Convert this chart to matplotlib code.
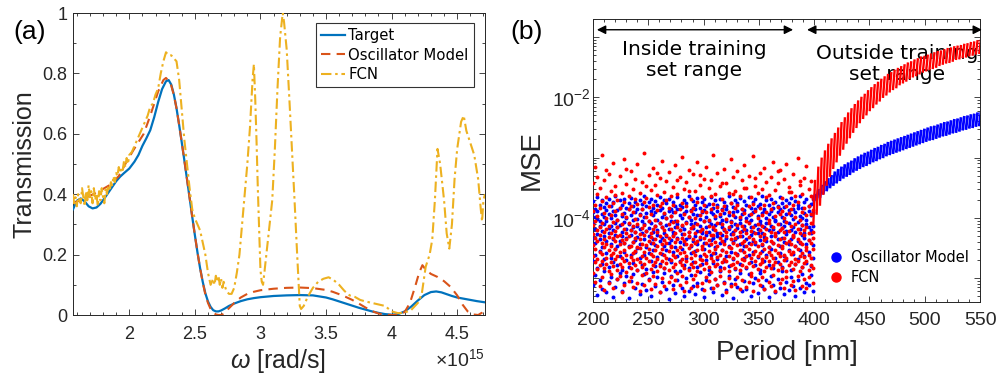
import numpy as np
import matplotlib
matplotlib.use('Agg')
import matplotlib.pyplot as plt
from matplotlib.lines import Line2D
from matplotlib.collections import LineCollection
from matplotlib.ticker import FixedLocator, MultipleLocator, FuncFormatter, NullFormatter, LogLocator

plt.rcParams['font.family'] = ['Liberation Sans', 'DejaVu Sans']
plt.rcParams['mathtext.fontset'] = 'custom'
plt.rcParams['mathtext.rm'] = 'Liberation Sans'
plt.rcParams['mathtext.it'] = 'Liberation Sans:italic'

# ---------------- Panel (a) data: omega in units of 1e15 rad/s ----------------
target_w = [1.571, 1.60, 1.63, 1.66, 1.69, 1.72, 1.75, 1.78, 1.81, 1.84, 1.87, 1.90, 1.93, 1.96, 2.00,
            2.04, 2.07, 2.10, 2.13, 2.16, 2.19, 2.22, 2.25, 2.28, 2.30, 2.32, 2.34, 2.36, 2.38, 2.40,
            2.42, 2.44, 2.46, 2.48, 2.50, 2.52, 2.54, 2.56, 2.58, 2.60, 2.62, 2.64, 2.66, 2.68, 2.70,
            2.73, 2.76, 2.80, 2.85, 2.90, 2.95, 3.00, 3.10, 3.20, 3.30, 3.40, 3.50, 3.55, 3.60, 3.65,
            3.70, 3.75, 3.80, 3.85, 3.90, 3.95, 4.00, 4.05, 4.10, 4.15, 4.20, 4.25, 4.30, 4.34, 4.38,
            4.42, 4.46, 4.50, 4.55, 4.60, 4.65, 4.712]
target_t = [0.350, 0.378, 0.386, 0.376, 0.360, 0.353, 0.356, 0.368, 0.386, 0.405, 0.424, 0.443, 0.458, 0.470, 0.485,
            0.508, 0.530, 0.560, 0.585, 0.612, 0.655, 0.705, 0.748, 0.774, 0.778, 0.763, 0.730, 0.685, 0.630, 0.572,
            0.512, 0.450, 0.388, 0.325, 0.265, 0.207, 0.155, 0.110, 0.072, 0.045, 0.027, 0.016, 0.012, 0.012, 0.015,
            0.022, 0.030, 0.038, 0.046, 0.052, 0.056, 0.059, 0.063, 0.065, 0.066, 0.065, 0.058, 0.052, 0.045, 0.038,
            0.031, 0.024, 0.018, 0.012, 0.007, 0.003, 0.001, 0.003, 0.012, 0.028, 0.048, 0.066, 0.076, 0.078, 0.075,
            0.069, 0.063, 0.058, 0.054, 0.050, 0.046, 0.042]

osc_w = [1.571, 1.65, 1.75, 1.85, 1.92, 1.97, 2.03, 2.11, 2.16, 2.22, 2.26, 2.28, 2.30, 2.32, 2.34,
         2.36, 2.38, 2.40, 2.42, 2.44, 2.46, 2.48, 2.50, 2.52, 2.54, 2.56, 2.58, 2.60, 2.62, 2.64,
         2.66, 2.68, 2.70, 2.72, 2.75, 2.80, 2.85, 2.90, 2.95, 3.00, 3.10, 3.20, 3.30, 3.40, 3.50,
         3.55, 3.60, 3.65, 3.70, 3.75, 3.80, 3.85, 3.90, 3.95, 4.00, 4.05, 4.10, 4.14, 4.18, 4.21,
         4.235, 4.26, 4.30, 4.35, 4.40, 4.45, 4.50, 4.54, 4.58, 4.62, 4.66, 4.69, 4.712]
osc_t = [0.370, 0.385, 0.405, 0.430, 0.460, 0.500, 0.545, 0.600, 0.660, 0.740, 0.778, 0.785, 0.775, 0.760, 0.728,
         0.685, 0.630, 0.572, 0.512, 0.450, 0.388, 0.325, 0.265, 0.207, 0.155, 0.108, 0.068, 0.040, 0.020, 0.008,
         0.002, 0.000, 0.000, 0.004, 0.018, 0.040, 0.058, 0.070, 0.077, 0.082, 0.087, 0.090, 0.091, 0.089, 0.083,
         0.077, 0.069, 0.060, 0.050, 0.038, 0.025, 0.013, 0.005, 0.001, 0.000, 0.000, 0.010, 0.040, 0.095, 0.140,
         0.165, 0.150, 0.136, 0.126, 0.112, 0.093, 0.065, 0.035, 0.012, 0.002, 0.000, 0.008, 0.020]

fcn_w = [1.571, 1.58, 1.59, 1.60, 1.61, 1.62, 1.63, 1.64, 1.65, 1.66, 1.67, 1.68, 1.69, 1.70, 1.71,
         1.72, 1.73, 1.74, 1.75, 1.76, 1.77, 1.78, 1.79, 1.80, 1.81, 1.82, 1.83, 1.84, 1.85, 1.86,
         1.87, 1.88, 1.89, 1.90, 1.91, 1.92, 1.93, 1.94, 1.95, 1.96, 1.97, 1.98, 1.99, 2.00, 2.02,
         2.04, 2.06, 2.08, 2.10, 2.12, 2.14, 2.16, 2.18, 2.20, 2.22, 2.24, 2.26, 2.28, 2.30, 2.32,
         2.34, 2.36, 2.38, 2.40, 2.42, 2.44, 2.46, 2.48, 2.50, 2.52, 2.54, 2.56, 2.58, 2.60, 2.62,
         2.64, 2.65, 2.66, 2.67, 2.68, 2.69, 2.70, 2.71, 2.72, 2.74, 2.76, 2.78, 2.80, 2.82, 2.84,
         2.86, 2.88, 2.90, 2.92, 2.94, 2.95, 2.96, 2.97, 2.98, 2.99, 3.00, 3.01, 3.02, 3.03, 3.05,
         3.07, 3.09, 3.11, 3.13, 3.15, 3.17, 3.18, 3.20, 3.22, 3.24, 3.26, 3.28, 3.30, 3.31, 3.33,
         3.36, 3.40, 3.44, 3.48, 3.52, 3.56, 3.60, 3.64, 3.68, 3.72, 3.76, 3.80, 3.85, 3.90, 3.95,
         4.00, 4.05, 4.10, 4.15, 4.20, 4.23, 4.26, 4.29, 4.31, 4.33, 4.35, 4.37, 4.40, 4.42, 4.44,
         4.46, 4.48, 4.50, 4.53, 4.55, 4.57, 4.60, 4.63, 4.66, 4.68, 4.69, 4.70, 4.712]
fcn_t = [0.400, 0.370, 0.390, 0.360, 0.400, 0.380, 0.370, 0.420, 0.390, 0.360, 0.410, 0.380, 0.430, 0.390, 0.410,
         0.370, 0.420, 0.380, 0.400, 0.360, 0.410, 0.380, 0.420, 0.390, 0.370, 0.420, 0.400, 0.430, 0.410, 0.440,
         0.430, 0.460, 0.440, 0.470, 0.460, 0.490, 0.470, 0.490, 0.480, 0.510, 0.490, 0.520, 0.500, 0.530, 0.540,
         0.560, 0.580, 0.600, 0.620, 0.640, 0.660, 0.690, 0.700, 0.730, 0.750, 0.800, 0.840, 0.870, 0.860, 0.860,
         0.850, 0.840, 0.780, 0.680, 0.580, 0.500, 0.420, 0.350, 0.320, 0.300, 0.280, 0.240, 0.200, 0.140, 0.100,
         0.120, 0.100, 0.130, 0.110, 0.130, 0.100, 0.120, 0.090, 0.110, 0.080, 0.070, 0.070, 0.090, 0.140, 0.200,
         0.300, 0.400, 0.500, 0.620, 0.780, 0.830, 0.720, 0.580, 0.420, 0.280, 0.150, 0.110, 0.100, 0.140, 0.220,
         0.300, 0.380, 0.550, 0.750, 0.920, 1.000, 0.970, 0.880, 0.720, 0.550, 0.380, 0.200, 0.030, 0.020, 0.030,
         0.060, 0.090, 0.110, 0.120, 0.125, 0.115, 0.100, 0.080, 0.065, 0.060, 0.050, 0.045, 0.040, 0.035, 0.030,
         0.012, 0.006, 0.008, 0.017, 0.040, 0.070, 0.160, 0.200, 0.250, 0.380, 0.550, 0.500, 0.380, 0.270, 0.220,
         0.300, 0.450, 0.550, 0.640, 0.660, 0.610, 0.570, 0.530, 0.450, 0.350, 0.310, 0.380, 0.400]

# ---------------- Panel (b) data: -log10(MSE) per period sample ----------------
osc_inside = [
    [3.72,3.91,4.08,4.33,4.71,5.12],[3.85,3.98,4.19,4.41,4.62,4.95],[3.66,3.88,4.02,4.27,4.84,5.28],
    [3.79,4.05,4.14,4.36,4.55,5.03],[3.70,3.94,4.22,4.48,4.77,5.19],[3.82,3.99,4.11,4.30,4.68,4.89],
    [3.76,3.87,4.06,4.39,4.59,5.24],[3.68,3.93,4.17,4.25,4.81,5.07],[3.81,4.01,4.13,4.44,4.66,4.98],
    [3.74,3.89,4.21,4.35,4.73,5.31],[3.63,3.96,4.09,4.28,4.52,5.15],[3.87,4.03,4.16,4.46,4.79,5.01],
    [3.71,3.84,4.12,4.38,4.64,4.91],[3.78,3.97,4.24,4.31,4.87,5.22],[3.69,3.92,4.07,4.42,4.57,5.09],
    [3.83,4.00,4.18,4.34,4.70,4.96],[3.75,3.86,4.10,4.47,4.82,5.33],[3.67,3.95,4.20,4.29,4.61,5.05],
    [3.80,4.04,4.15,4.40,4.75,4.93],[3.73,3.90,4.23,4.37,4.56,5.17],[3.86,4.02,4.14,4.32,4.50,4.86],
    [3.70,3.93,4.19,4.43,4.67,5.26],[3.77,3.85,4.05,4.26,4.78,5.10],[3.64,3.99,4.11,4.36,4.62,4.94],
    [3.81,3.92,4.22,4.49,4.85,5.20],[3.74,4.06,4.17,4.30,4.58,5.02],[3.69,3.88,4.09,4.41,4.72,5.29],
    [3.84,3.96,4.24,4.35,4.54,4.90],[3.72,3.91,4.13,4.45,4.80,5.14],[3.79,4.03,4.20,4.28,4.65,4.99],
    [3.65,3.87,4.08,4.39,4.76,5.23],[3.83,3.98,4.16,4.33,4.60,5.06],[3.71,3.94,4.25,4.46,4.83,4.92],
    [3.76,4.01,4.12,4.31,4.53,5.18],[3.68,3.89,4.18,4.42,4.69,5.34],[3.85,3.97,4.06,4.37,4.74,4.97],
    [3.73,3.90,4.23,4.29,4.57,5.11],[3.80,4.05,4.15,4.48,4.88,5.25],[3.66,3.86,4.10,4.34,4.63,5.04],
    [3.78,3.95,4.21,4.40,4.71,4.88],[3.82,4.00,4.14,4.27,4.51,5.16],[3.70,3.92,4.19,4.44,4.79,5.30],
    [3.75,3.88,4.07,4.36,4.66,5.00],[3.63,3.99,4.24,4.32,4.84,5.21],[3.87,4.04,4.11,4.47,4.59,4.95],
    [3.72,3.93,4.17,4.38,4.73,5.13],[3.79,3.85,4.09,4.30,4.55,5.27],[3.67,3.96,4.22,4.43,4.81,5.08],
    [3.84,4.02,4.13,4.35,4.64,4.90],[3.74,3.91,4.20,4.26,4.77,5.19],[3.69,3.87,4.05,4.41,4.52,5.32],
    [3.81,3.98,4.16,4.29,4.70,5.03],[3.77,4.06,4.23,4.45,4.86,4.93],[3.65,3.90,4.10,4.37,4.61,5.17],
    [3.83,3.94,4.18,4.33,4.75,5.24],[3.71,4.01,4.12,4.49,4.58,5.01],[3.78,3.89,4.25,4.31,4.68,5.12],
    [3.68,3.97,4.08,4.42,4.82,4.89],[3.86,4.03,4.15,4.28,4.54,5.28],[3.73,3.92,4.21,4.39,4.72,5.06],
    [3.80,3.86,4.06,4.34,4.63,5.20],[3.64,3.95,4.19,4.46,4.80,4.97],[3.76,4.05,4.14,4.27,4.56,5.10],
    [3.82,3.91,4.24,4.40,4.69,5.33],[3.70,3.99,4.11,4.36,4.85,5.02],[3.75,3.88,4.17,4.32,4.60,5.15],
    [3.67,4.02,4.09,4.44,4.76,4.92],[3.85,3.93,4.22,4.30,4.53,5.22],[3.72,3.87,4.13,4.47,4.67,5.05],
    [3.79,4.00,4.20,4.35,4.83,5.18],[3.66,3.96,4.07,4.41,4.62,4.94],[3.83,4.04,4.16,4.29,4.74,5.29],
    [3.74,3.90,4.23,4.38,4.57,5.09],[3.69,3.85,4.12,4.43,4.79,5.00],[3.81,3.97,4.18,4.26,4.65,5.25],
    [3.77,4.06,4.10,4.37,4.87,4.91],[3.63,3.92,4.25,4.45,4.55,5.13],[3.86,3.89,4.15,4.32,4.71,5.19],
    [3.71,4.01,4.08,4.39,4.61,5.04],[3.78,3.94,4.21,4.48,4.78,5.31],[3.68,3.88,4.14,4.31,4.52,4.96],
    [3.84,3.98,4.19,4.42,4.84,5.11],[3.73,4.03,4.06,4.28,4.66,5.23],[3.80,3.91,4.24,4.36,4.73,5.02],
    [3.65,3.86,4.11,4.46,4.59,5.16],[3.76,3.99,4.17,4.33,4.81,4.88],[3.82,4.05,4.13,4.40,4.64,5.27],
    [3.70,3.93,4.22,4.27,4.70,5.07],[3.75,3.87,4.09,4.44,4.54,5.20],[3.67,3.95,4.20,4.35,4.86,4.99],
    [3.85,4.02,4.15,4.30,4.60,5.14],[3.72,3.90,4.23,4.47,4.77,5.30],[3.79,3.84,4.07,4.38,4.68,5.03],
    [3.64,3.97,4.18,4.41,4.53,5.17],[3.83,4.00,4.12,4.29,4.82,4.93],[3.74,3.92,4.25,4.34,4.63,5.24],
    [3.69,4.04,4.10,4.43,4.75,5.08],[3.81,3.89,4.16,4.37,4.57,5.12],[3.77,3.96,4.21,4.26,4.80,4.95],
    [3.66,3.91,4.14,4.45,4.67,5.21]]

fcn_inside = [
    [3.42,3.88,4.27,4.45,4.63,4.91,4.12],[3.15,3.79,4.05,4.33,4.52,4.74,5.06],[3.61,3.97,4.21,4.38,4.69,4.85,3.33],
    [3.50,3.84,4.16,4.29,4.57,4.78,5.13],[2.96,3.72,4.09,4.41,4.60,4.71,4.98],[3.38,3.92,4.24,4.36,4.49,4.83,5.20],
    [3.66,4.01,4.19,4.43,4.66,4.76,3.21],[3.27,3.81,4.13,4.32,4.54,4.88,5.09],[3.55,3.95,4.26,4.47,4.62,4.73,4.94],
    [3.09,3.76,4.07,4.34,4.58,4.80,5.17],[3.47,3.89,4.22,4.39,4.51,4.69,3.62],[3.70,4.04,4.15,4.30,4.64,4.86,5.02],
    [3.31,3.83,4.28,4.44,4.56,4.77,4.97],[3.58,3.93,4.11,4.37,4.67,4.82,5.24],[3.02,3.74,4.18,4.42,4.53,4.72,5.11],
    [3.44,3.98,4.25,4.35,4.61,4.90,3.19],[3.63,3.86,4.08,4.31,4.48,4.75,5.05],[3.22,3.80,4.20,4.46,4.65,4.84,4.99],
    [3.52,3.91,4.14,4.40,4.59,4.70,5.15],[3.36,4.02,4.23,4.33,4.55,4.79,3.68],[3.11,3.77,4.10,4.48,4.68,4.87,5.08],
    [3.59,3.96,4.27,4.36,4.50,4.74,5.21],[3.40,3.85,4.17,4.43,4.63,4.81,4.95],[2.93,3.73,4.12,4.29,4.57,4.76,5.12],
    [3.67,3.99,4.22,4.45,4.66,4.92,3.48],[3.29,3.82,4.06,4.38,4.52,4.71,5.03],[3.54,3.94,4.26,4.32,4.60,4.85,5.18],
    [3.18,3.78,4.19,4.41,4.64,4.78,4.96],[3.46,4.03,4.13,4.35,4.54,4.73,5.10],[3.62,3.87,4.24,4.47,4.69,4.89,3.25],
    [3.34,3.81,4.09,4.30,4.58,4.80,5.23],[3.05,3.75,4.16,4.44,4.51,4.72,5.00],[3.57,3.92,4.21,4.37,4.62,4.83,5.14],
    [3.39,4.00,4.28,4.42,4.67,4.75,3.71],[3.24,3.84,4.11,4.34,4.55,4.86,5.07],[3.64,3.97,4.18,4.46,4.49,4.70,4.98],
    [3.49,3.79,4.07,4.31,4.61,4.82,5.19],[3.13,3.90,4.25,4.40,4.65,4.77,5.04],[3.60,4.05,4.15,4.36,4.53,4.91,3.37],
    [3.32,3.86,4.20,4.48,4.59,4.74,5.11],[2.99,3.76,4.12,4.33,4.68,4.79,4.97],[3.53,3.93,4.27,4.39,4.56,4.84,5.22],
    [3.41,3.80,4.08,4.43,4.63,4.71,5.06],[3.20,3.98,4.23,4.30,4.50,4.87,3.56],[3.68,3.88,4.17,4.45,4.66,4.76,5.16],
    [3.28,3.83,4.14,4.35,4.57,4.81,5.01],[3.56,4.01,4.26,4.41,4.62,4.73,4.95],[3.08,3.74,4.10,4.38,4.54,4.88,5.13],
    [3.45,3.95,4.22,4.32,4.69,4.78,3.29],[3.65,3.89,4.19,4.47,4.52,4.70,5.09],[3.35,3.78,4.06,4.34,4.60,4.85,5.20],
    [3.16,3.91,4.24,4.42,4.64,4.75,4.99],[3.51,4.04,4.13,4.37,4.55,4.82,5.05],[3.38,3.85,4.28,4.44,4.67,4.90,3.64],
    [2.95,3.77,4.16,4.29,4.58,4.72,5.17],[3.61,3.97,4.21,4.40,4.51,4.80,5.02],[3.26,3.82,4.09,4.46,4.65,4.77,5.12],
    [3.48,3.94,4.25,4.33,4.61,4.86,4.96],[3.69,3.87,4.11,4.39,4.53,4.74,3.43],[3.19,3.80,4.18,4.43,4.68,4.83,5.08],
    [3.43,4.02,4.23,4.31,4.56,4.71,5.23],[3.58,3.90,4.15,4.48,4.63,4.89,5.00],[3.03,3.75,4.07,4.36,4.50,4.79,5.14],
    [3.33,3.96,4.27,4.41,4.66,4.76,3.60],[3.55,3.84,4.20,4.34,4.59,4.84,5.10],[3.23,3.79,4.12,4.45,4.62,4.73,4.98],
    [3.63,3.99,4.24,4.30,4.54,4.87,5.19],[3.37,3.86,4.14,4.42,4.69,4.78,5.04],[3.12,3.92,4.19,4.38,4.57,4.70,3.50],
    [3.50,4.05,4.26,4.47,4.64,4.82,5.15],[3.30,3.81,4.08,4.32,4.52,4.75,5.07],[3.66,3.93,4.22,4.44,4.67,4.91,4.97],
    [2.98,3.77,4.16,4.35,4.60,4.80,5.21],[3.47,3.88,4.25,4.40,4.55,4.72,3.34],[3.59,4.00,4.10,4.46,4.63,4.85,5.03],
    [3.25,3.83,4.21,4.31,4.58,4.77,5.12],[3.52,3.95,4.13,4.43,4.68,4.74,4.99],[3.17,3.78,4.27,4.37,4.51,4.88,5.18],
    [3.40,3.91,4.18,4.34,4.65,4.81,3.66],[3.62,4.03,4.09,4.48,4.56,4.71,5.06],[3.32,3.85,4.23,4.39,4.61,4.84,5.13],
    [3.07,3.76,4.15,4.42,4.66,4.78,4.95],[3.54,3.97,4.26,4.30,4.53,4.73,5.22],[3.42,3.82,4.11,4.45,4.59,4.86,3.23],
    [3.21,3.94,4.20,4.36,4.64,4.76,5.09],[3.67,3.89,4.17,4.47,4.50,4.83,5.01],[3.36,4.01,4.24,4.33,4.62,4.70,5.16],
    [3.10,3.80,4.07,4.41,4.67,4.89,4.98],[3.49,3.92,4.22,4.38,4.55,4.79,3.57],[3.57,3.86,4.14,4.44,4.60,4.74,5.11],
    [3.28,3.79,4.28,4.32,4.57,4.85,5.05],[3.64,3.98,4.10,4.46,4.69,4.77,5.20],[3.01,3.74,4.19,4.35,4.52,4.72,4.96],
    [3.45,4.04,4.25,4.40,4.63,4.88,3.39],[3.60,3.90,4.12,4.43,4.58,4.81,5.14],[3.34,3.84,4.21,4.29,4.65,4.75,5.02],
    [3.14,3.96,4.16,4.48,4.54,4.71,5.17],[3.53,3.81,4.26,4.37,4.61,4.87,4.99],[3.39,3.93,4.08,4.42,4.66,4.78,3.63],
    [3.69,3.87,4.23,4.34,4.51,4.84,5.08]]

out_period = [400, 403, 406, 409, 412, 415, 418, 421, 424, 427, 430, 433, 436, 439, 442, 445, 448,
              451, 454, 457, 460, 463, 466, 469, 472, 475, 478, 481, 484, 487, 490, 493, 496, 499,
              502, 505, 508, 511, 514, 517, 520, 523, 526, 529, 532, 535, 538, 541, 544, 547, 550]
# log10(MSE) streak centres and half-spreads outside the training range
fcn_out_center = [-3.75, -3.55, -3.40, -3.25, -3.12, -3.00, -2.89, -2.79, -2.69, -2.60, -2.51, -2.43, -2.35,
                  -2.28, -2.21, -2.15, -2.09, -2.03, -1.98, -1.93, -1.88, -1.83, -1.79, -1.75, -1.71, -1.68,
                  -1.64, -1.61, -1.58, -1.55, -1.52, -1.50, -1.47, -1.45, -1.43, -1.41, -1.39, -1.37, -1.35,
                  -1.33, -1.31, -1.30, -1.28, -1.26, -1.25, -1.23, -1.22, -1.20, -1.19, -1.17, -1.16]
fcn_out_half = [0.38, 0.40, 0.40, 0.37, 0.35, 0.32, 0.30, 0.29, 0.28, 0.27, 0.26, 0.25, 0.24, 0.23, 0.22,
                0.21, 0.21, 0.20, 0.20, 0.19, 0.19, 0.18, 0.18, 0.17, 0.17, 0.17, 0.16, 0.16, 0.16, 0.15,
                0.15, 0.15, 0.15, 0.14, 0.14, 0.14, 0.14, 0.14, 0.13, 0.13, 0.13, 0.13, 0.13, 0.12, 0.12,
                0.12, 0.12, 0.12, 0.12, 0.12, 0.12]
osc_out_center = [-3.70, -3.62, -3.56, -3.50, -3.45, -3.40, -3.35, -3.31, -3.27, -3.23, -3.20, -3.17, -3.13,
                  -3.10, -3.07, -3.04, -3.02, -2.99, -2.96, -2.94, -2.91, -2.89, -2.86, -2.84, -2.82, -2.80,
                  -2.78, -2.76, -2.74, -2.72, -2.70, -2.68, -2.66, -2.64, -2.62, -2.60, -2.59, -2.57, -2.55,
                  -2.53, -2.52, -2.50, -2.48, -2.47, -2.45, -2.43, -2.42, -2.40, -2.39, -2.37, -2.36]
osc_out_half = [0.10, 0.10, 0.11, 0.11, 0.11, 0.11, 0.12, 0.12, 0.12, 0.12, 0.12, 0.12, 0.12, 0.12, 0.12,
                0.12, 0.12, 0.12, 0.12, 0.12, 0.12, 0.12, 0.12, 0.12, 0.12, 0.12, 0.12, 0.12, 0.12, 0.12,
                0.12, 0.12, 0.12, 0.12, 0.12, 0.12, 0.12, 0.12, 0.12, 0.12, 0.12, 0.12, 0.12, 0.12, 0.12,
                0.12, 0.12, 0.12, 0.12, 0.12, 0.12]

C_TARGET = '#0072BD'
C_OSC = '#D95319'
C_FCN = '#EDB120'
AX_COL = '#262626'

fig = plt.figure(figsize=(9.97, 3.76), dpi=100)
axA = fig.add_axes([0.0732, 0.1622, 0.4133, 0.8032])
axB = fig.add_axes([0.5948, 0.1968, 0.3882, 0.7527])

# ---------------- Panel (a) ----------------
axA.plot(target_w, target_t, color=C_TARGET, lw=1.6, label='Target', zorder=3)
axA.plot(osc_w, osc_t, color=C_OSC, lw=1.5, ls=(0, (4.5, 3)), label='Oscillator Model', zorder=4)
axA.plot(fcn_w, fcn_t, color=C_FCN, lw=1.5, ls=(0, (5, 1.8, 1.2, 1.8)), label='FCN', zorder=5)
axA.set_xlim(np.pi / 2, 3 * np.pi / 2)
axA.set_ylim(0, 1)
axA.xaxis.set_major_locator(FixedLocator([2, 2.5, 3, 3.5, 4, 4.5]))
axA.xaxis.set_minor_locator(MultipleLocator(0.1))
axA.yaxis.set_major_locator(MultipleLocator(0.2))
axA.yaxis.set_minor_locator(MultipleLocator(0.1))
fmt = FuncFormatter(lambda v, p: '%g' % round(v, 3))
axA.xaxis.set_major_formatter(fmt)
axA.yaxis.set_major_formatter(fmt)
axA.set_xlabel(r'$\omega$ [rad/s]', fontsize=18, color=AX_COL)
axA.set_ylabel('Transmission', fontsize=18, color=AX_COL)
axA.xaxis.set_label_coords(0.498, -0.106)
axA.yaxis.set_label_coords(-0.088, 0.5)
axA.text(1.0, -0.168, r'$\times 10^{15}$', transform=axA.transAxes, ha='right', va='baseline',
         fontsize=14, color=AX_COL)
legA = axA.legend(loc='upper right', bbox_to_anchor=(0.973, 0.967), frameon=True,
                  fancybox=False, edgecolor='black', handlelength=1.6, handletextpad=0.25,
                  labelspacing=0.3, borderpad=0.35, borderaxespad=0,
                  prop={'family': 'DejaVu Sans', 'size': 10.7})
legA.get_frame().set_linewidth(0.8)

# ---------------- Panel (b) ----------------
for rows, col in ((osc_inside, 'blue'), (fcn_inside, 'red')):
    per = np.linspace(200, 399, len(rows))
    xs, ys = [], []
    for p, row in zip(per, rows):
        for v in row:
            xs.append(p)
            ys.append(10.0 ** (-v))
    axB.scatter(xs, ys, s=8, c=col, marker='o', linewidths=0, zorder=3)

for cen, half, col, lw in ((osc_out_center, osc_out_half, 'blue', 2.0),
                           (fcn_out_center, fcn_out_half, 'red', 1.7)):
    segs = []
    for p, c, h in zip(out_period, cen, half):
        segs.append([(p - 0.8, 10.0 ** (c - h)), (p + 0.8, 10.0 ** (c + h))])
    axB.add_collection(LineCollection(segs, colors=col, linewidths=lw, zorder=4))

axB.set_yscale('log')
axB.set_xlim(200, 550)
axB.set_ylim(4e-6, 0.2)
axB.xaxis.set_major_locator(MultipleLocator(50))
axB.xaxis.set_minor_locator(MultipleLocator(10))
axB.yaxis.set_major_locator(FixedLocator([1e-5, 1e-4, 1e-3, 1e-2, 1e-1]))
axB.yaxis.set_major_formatter(FuncFormatter(
    lambda v, p: r'$10^{%d}$' % round(np.log10(v)) if round(np.log10(v)) in (-4, -2) else ''))
axB.yaxis.set_minor_locator(LogLocator(base=10, subs=np.arange(2, 10)))
axB.yaxis.set_minor_formatter(NullFormatter())
axB.set_xlabel('Period [nm]', fontsize=20, color=AX_COL)
axB.set_ylabel('MSE', fontsize=20, color=AX_COL)
axB.xaxis.set_label_coords(0.501, -0.135)
axB.yaxis.set_label_coords(-0.125, 0.5)

handles = [Line2D([], [], ls='none', marker='o', ms=6.5, color='blue'),
           Line2D([], [], ls='none', marker='o', ms=6.5, color='red')]
axB.legend(handles, ['Oscillator Model', 'FCN'], loc='lower left', bbox_to_anchor=(0.575, 0.04),
           frameon=False, handletextpad=0.0, labelspacing=0.3, borderaxespad=0,
           prop={'family': 'DejaVu Sans', 'size': 10.5})

arrow_kw = dict(arrowstyle='<|-|>', color='black', lw=1.0, mutation_scale=13, shrinkA=0, shrinkB=0)
axB.annotate('', xy=(0.01, 0.962), xytext=(0.517, 0.962), xycoords='axes fraction',
             textcoords='axes fraction', arrowprops=arrow_kw)
axB.annotate('', xy=(0.553, 0.962), xytext=(1.005, 0.962), xycoords='axes fraction',
             textcoords='axes fraction', arrowprops=arrow_kw, annotation_clip=False)
axB.text(0.261, 0.855, 'Inside training\nset range', transform=axB.transAxes, ha='center', va='center',
         fontsize=14.5, family='DejaVu Sans', linespacing=1.15, color='black', zorder=6)
axB.text(0.785, 0.84, 'Outside training\nset range', transform=axB.transAxes, ha='center', va='center',
         fontsize=14.5, family='DejaVu Sans', linespacing=1.15, color='black', zorder=2)

for ax, lsz in ((axA, 13), (axB, 14)):
    ax.tick_params(which='both', direction='in', top=True, right=True, colors=AX_COL,
                   labelcolor=AX_COL, width=0.6)
    ax.tick_params(which='major', length=4.5, labelsize=lsz)
    ax.tick_params(which='minor', length=2.5)
    for s in ax.spines.values():
        s.set_color(AX_COL)
        s.set_linewidth(0.7)
axA.tick_params(axis='x', which='major', pad=8)
axA.tick_params(axis='y', which='major', pad=4)
axB.tick_params(axis='x', which='major', pad=7)
axB.tick_params(axis='y', which='major', pad=1.5)

fig.text(30 / 997, 1 - 32 / 376, '(a)', fontsize=19, ha='center', va='center', color='black')
fig.text(527 / 997, 1 - 32 / 376, '(b)', fontsize=19, ha='center', va='center', color='black')

fig.savefig('out.png', dpi=100)
